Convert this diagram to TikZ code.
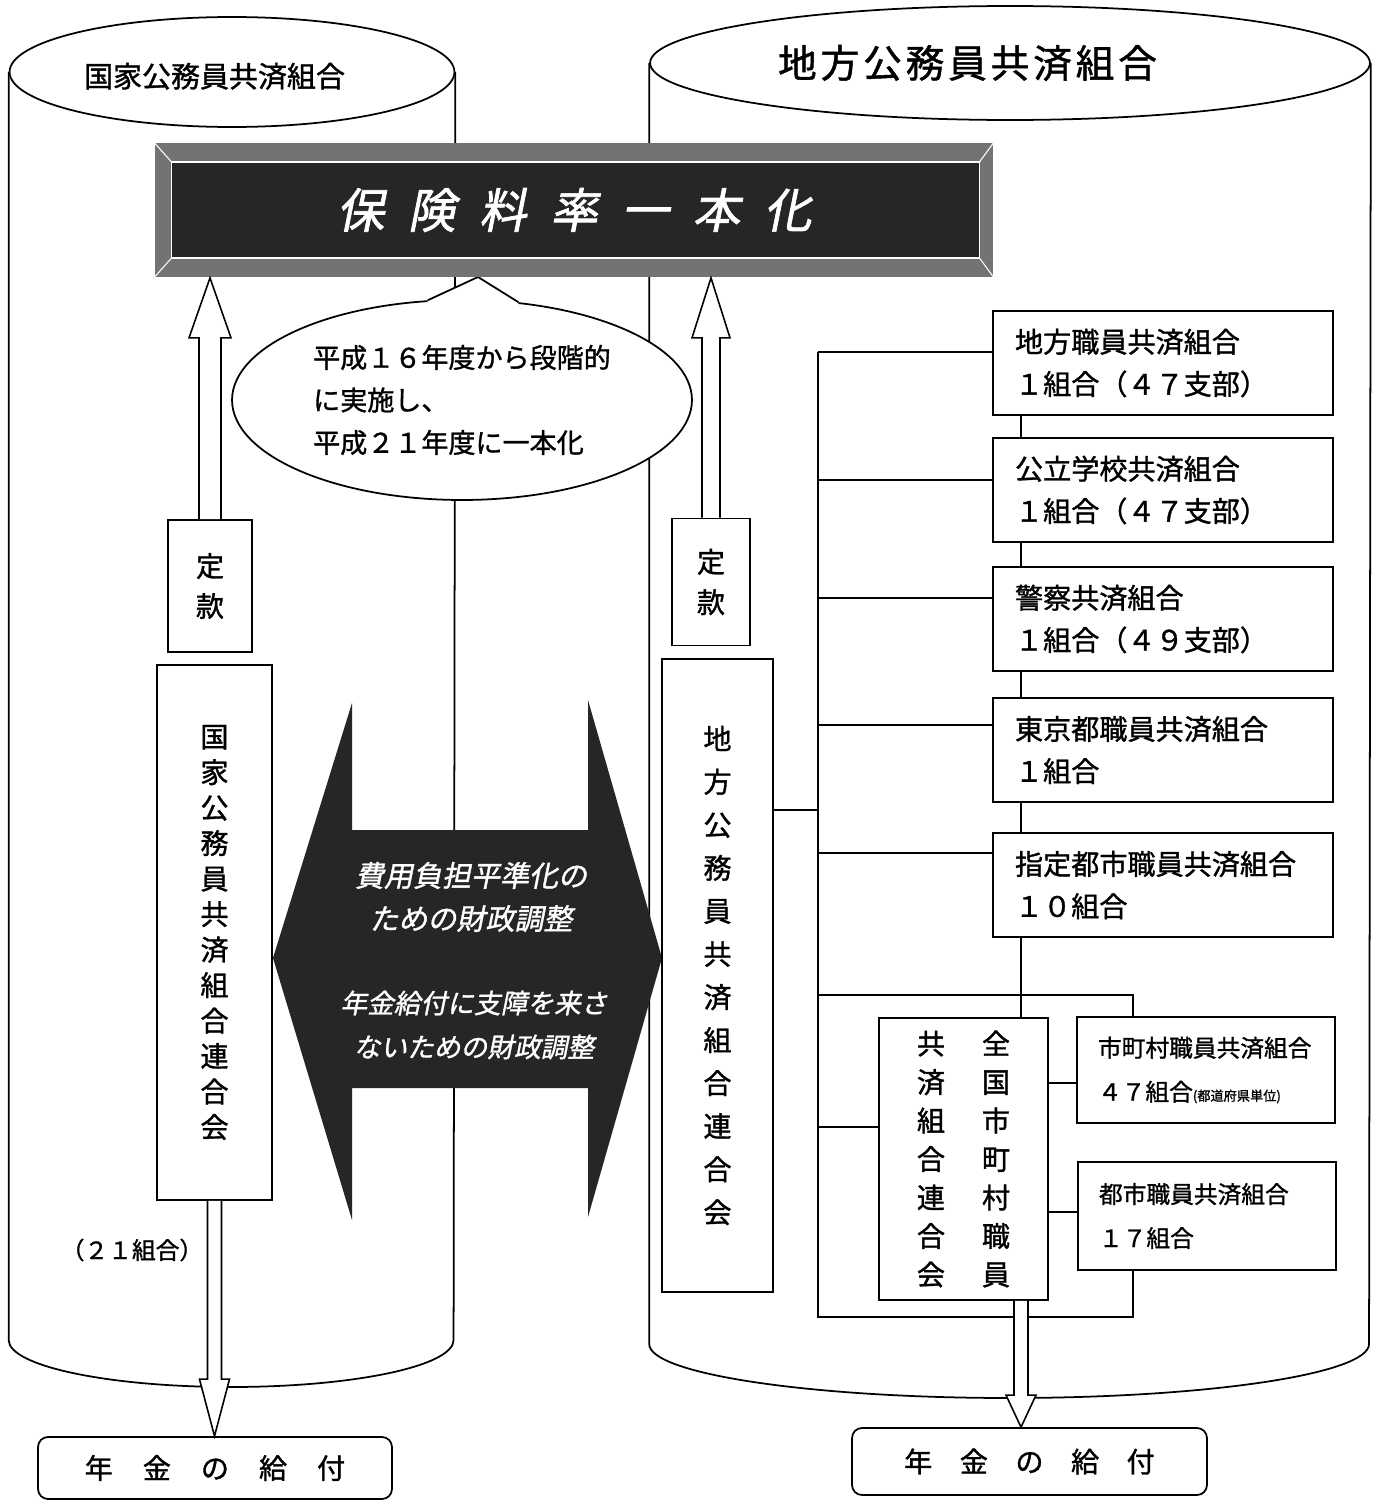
\documentclass[tikz,border=0pt]{standalone}
\usepackage{fontspec}
\setmainfont{Noto Sans CJK JP}[FakeBold=1.2]
\newfontfamily\slantjp{Noto Sans CJK JP}[FakeSlant=0.2, FakeBold=1.2]
\newfontfamily\ratejp{Noto Sans CJK JP}[FakeSlant=0.2, FakeBold=1.5, LetterSpace=50]
\newfontfamily\widejp{Noto Sans CJK JP}[LetterSpace=10, FakeBold=1.2]
\usetikzlibrary{shapes.geometric, calc, positioning}

% hollow arrow: base, tip, shaft half width, head half width, head length
\newcommand{\hollowarrow}[5]{%
  \coordinate (ha) at ($(#2)!#5!(#1)$);
  \draw[hollow] ($(#1)+(-#3,0)$) -- ($(ha)+(-#3,0)$) -- ($(ha)+(-#4,0)$) -- (#2)
    -- ($(ha)+(#4,0)$) -- ($(ha)+(#3,0)$) -- ($(#1)+(#3,0)$);
}

\begin{document}
\begin{tikzpicture}[x=0.02cm, y=-0.02cm, line width=1pt,
    box/.style={draw, fill=white, inner sep=0pt},
    vbox/.style={box, align=center, font=\fontsize{16}{20.2}\selectfont},
    rbox/.style={box, minimum width=6.8cm, minimum height=2.08cm, text width=5.92cm, inner xsep=0.44cm, align=left, font=\fontsize{16}{24}\selectfont},
    sbox/.style={box, minimum width=5.16cm, text width=4.32cm, inner xsep=0.42cm, align=left, font=\fontsize{13.5}{25}\selectfont},
    nenkin/.style={box, rounded corners=0.2cm, font=\fontsize{16}{20}\selectfont},
    hollow/.style={draw, fill=white, line width=0.9pt}]

    \path[fill=white, use as bounding box] (0,0) rectangle (1385,1501);

    % the two cylinders
    \node [draw, ellipse, minimum width=8.9cm, minimum height=2.2cm, font=\fontsize{16.5}{20}\selectfont, text depth=0pt] (kokkaTop) at (232,72) {\raisebox{-0.12cm}{\hspace*{-0.7cm}国家公務員共済組合}};
    \draw (kokkaTop.west) -- ++(0,1268) arc[start angle=180, end angle=360, x radius=4.45cm, y radius=0.94cm] -- (kokkaTop.east);
    \node [draw, ellipse, minimum width=14.4cm, minimum height=2.28cm, font=\widejp\fontsize{22}{26}\selectfont] (chihouTop) at (1010,63) {\hspace*{-1.7cm}地方公務員共済組合};
    \draw (chihouTop.west) -- ++(0,1281) arc[start angle=180, end angle=360, x radius=7.2cm, y radius=1.08cm] -- (chihouTop.east);

    % speech bubble
    \coordinate (apex) at (478,277);
    \node [draw, ellipse, fill=white, minimum width=9.2cm, minimum height=4cm, align=left, font=\fontsize{15.4}{24.2}\selectfont] (note) at (462,400) {平成１６年度から段階的\\に実施し、\\平成２１年度に一本化};
    \fill [white] ($(note.109)+(0,3)$) -- (note.109) -- (apex) -- (note.60) -- ($(note.60)+(0,3)$) -- cycle;
    \draw (note.109) -- (apex) -- (note.60);

    % bevelled title plate
    \node [fill=black!55, minimum width=16.78cm, minimum height=2.68cm, text=white, font=\ratejp\fontsize{27}{32}\selectfont,
        path picture={
            \coordinate (pa) at (path picture bounding box.north west);
            \coordinate (pb) at (path picture bounding box.south east);
            \fill [black!85] ($(pa)+(17,19)$) rectangle ($(pb)+(-14,-19)$);
            \draw [white, line width=0.8pt] ($(pa)+(17,19)$) rectangle ($(pb)+(-14,-19)$);
            \draw [white, line width=0.6pt] (pa) -- ++(17,19) (pb) -- ++(-14,-19) (pa |- pb) -- ++(17,-19) (pb |- pa) -- ++(-14,19);
        }] (rate) at (574,210) {保険料率一本化};

    % double arrow
    \fill [black!85] (273,958) -- (352,703) -- (352,830) -- (588,830) -- (588,700) -- (662,958) -- (588,1217) -- (588,1088) -- (352,1088) -- (352,1220) -- cycle;
    \node [text=white, align=center, font=\slantjp\fontsize{16.5}{24.5}\selectfont] (adjust1) at (471,897) {費用負担平準化の\\ための財政調整};
    \node [text=white, align=center, font=\slantjp\fontsize{15.2}{25}\selectfont] (adjust2) at (474,1025) {年金給付に支障を来さ\\ないための財政調整};

    % left column
    \node [vbox, minimum width=1.68cm, minimum height=2.64cm, font=\fontsize{16}{22.8}\selectfont] (tkL) at (210,586) {定\\款};
    \node [vbox, minimum width=2.3cm, minimum height=10.7cm] (kokkaRen) at (214.5,932.5) {国\\家\\公\\務\\員\\共\\済\\組\\合\\連\\合\\会};
    \node [font=\fontsize{13.5}{16}\selectfont] (kumiai21) at (132,1250) {（２１組合）};
    \node [nenkin, minimum width=7.08cm, minimum height=1.24cm] (nenkinL) at (215,1468) {年\hspace{0.6cm}金\hspace{0.6cm}の\hspace{0.6cm}給\hspace{0.6cm}付};

    % right column
    \node [vbox, minimum width=1.56cm, minimum height=2.54cm, font=\fontsize{16}{23}\selectfont] (tkR) at (711,582) {定\\款};
    \node [vbox, minimum width=2.22cm, minimum height=12.66cm, font=\fontsize{16}{24.5}\selectfont] (chihouRen) at (717.5,975.5) {地\\方\\公\\務\\員\\共\\済\\組\\合\\連\\合\\会};

    \node [rbox] (rb1) at (1163,363) {地方職員共済組合\\１組合（４７支部）};
    \node [rbox] (rb2) at (1163,490) {公立学校共済組合\\１組合（４７支部）};
    \node [rbox] (rb3) at (1163,619) {警察共済組合\\１組合（４９支部）};
    \node [rbox] (rb4) at (1163,750) {東京都職員共済組合\\１組合};
    \node [rbox] (rb5) at (1163,885) {指定都市職員共済組合\\１０組合};

    \node [vbox, minimum width=3.38cm, minimum height=5.64cm, font=\fontsize{16}{21.9}\selectfont] (zenkoku) at (963.5,1159) {共\hspace{0.74cm}全\\済\hspace{0.74cm}国\\組\hspace{0.74cm}市\\合\hspace{0.74cm}町\\連\hspace{0.74cm}村\\合\hspace{0.74cm}職\\会\hspace{0.74cm}員};
    \node [sbox, minimum height=2.12cm] (shicho) at (1206,1070) {市町村職員共済組合\\４７組合{\fontsize{7.5}{9}\selectfont (都道府県単位)}};
    \node [sbox, minimum height=2.16cm] (toshi) at (1207,1216) {都市職員共済組合\\１７組合};
    \node [nenkin, minimum width=7.1cm, minimum height=1.34cm] (nenkinR) at (1029.5,1461.5) {年\hspace{0.55cm}金\hspace{0.55cm}の\hspace{0.55cm}給\hspace{0.55cm}付};

    % connectors of the right column
    \coordinate (busTop) at (818,352);
    \coordinate (busBot) at (818,1317);
    \coordinate (jnc) at (1133,995);
    \coordinate (spine) at (1021,418);
    \draw (busTop) -- (busBot) -- (busBot -| jnc) -- (toshi.south -| jnc);
    \draw (busTop) -- (busTop -| rb1.west);
    \draw ($(rb2.west)+(0,-10)$) coordinate (b2) -- (b2 -| busTop);
    \draw ($(rb3.west)+(0,-21)$) coordinate (b3) -- (b3 -| busTop);
    \draw ($(rb4.west)+(0,-25)$) coordinate (b4) -- (b4 -| busTop);
    \draw ($(rb5.west)+(0,-32)$) coordinate (b5) -- (b5 -| busTop);
    \draw ($(zenkoku.west)+(0,-32)$) coordinate (b6) -- (b6 -| busTop);
    \draw ($(chihouRen.east)+(0,-165.5)$) coordinate (b0) -- (b0 -| busTop);
    \draw (busTop |- jnc) -- (jnc) -- (jnc |- shicho.north);
    \draw (rb1.south -| spine) -- (rb2.north -| spine);
    \draw (rb2.south -| spine) -- (rb3.north -| spine);
    \draw (rb3.south -| spine) -- (rb4.north -| spine);
    \draw (rb4.south -| spine) -- (rb5.north -| spine);
    \draw (rb5.south -| spine) -- (zenkoku.north -| spine);
    \draw ($(shicho.west)+(0,13)$) coordinate (z1) -- (z1 -| zenkoku.east);
    \draw ($(toshi.west)+(0,-4)$) coordinate (z2) -- (z2 -| zenkoku.east);

    % hollow arrows
    \coordinate (upL) at (rate.south -| tkL.north);
    \hollowarrow{tkL.north}{upL}{11}{21}{1.2cm}
    \coordinate (upR) at (rate.south -| tkR.north);
    \hollowarrow{tkR.north}{upR}{9}{19}{1.2cm}
    \coordinate (dnL) at (nenkinL.north -| kokkaRen.south);
    \hollowarrow{kokkaRen.south}{dnL}{7}{15}{1.14cm}
    \coordinate (dnRs) at (zenkoku.south -| spine);
    \coordinate (dnRe) at (nenkinR.north -| spine);
    \hollowarrow{dnRs}{dnRe}{7}{15}{0.64cm}
\end{tikzpicture}
\end{document}
